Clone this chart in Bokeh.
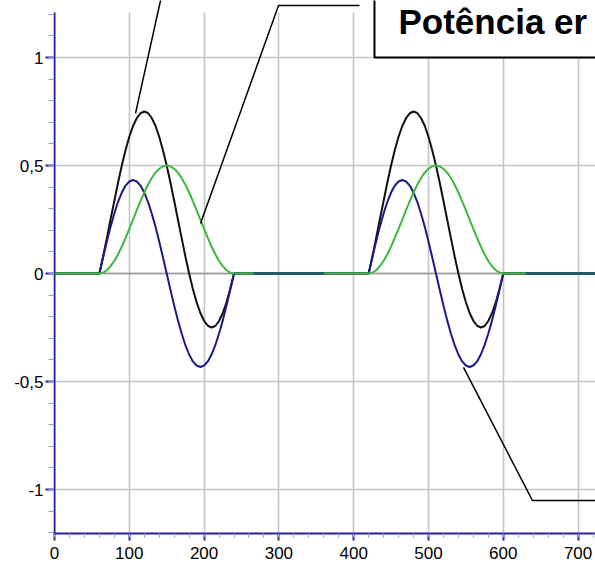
from bokeh.plotting import figure
from bokeh.models import FixedTicker, Range1d, Span
from bokeh.core.properties import value
from bokeh.embed import file_html
from bokeh.resources import INLINE

# ---- data ----
pulse_x1 = list(range(60, 245, 5))
pulse_x2 = list(range(420, 605, 5))
black_vals = [0, 0.079, 0.163, 0.251, 0.336, 0.421, 0.5, 0.572, 0.633, 0.683, 0.719, 0.742, 0.75,
              0.743, 0.72, 0.684, 0.633, 0.571, 0.5, 0.421, 0.337, 0.25, 0.164, 0.079, 0,
              -0.072, -0.133, -0.183, -0.219, -0.242, -0.25, -0.243, -0.22, -0.183, -0.133, -0.071, 0]
blue_vals = [0, 0.075, 0.148, 0.217, 0.278, 0.332, 0.375, 0.407, 0.426, 0.433, 0.426, 0.407, 0.375,
             0.332, 0.278, 0.217, 0.148, 0.075, 0, -0.075, -0.148, -0.217, -0.278, -0.332, -0.375,
             -0.407, -0.426, -0.433, -0.426, -0.407, -0.375, -0.332, -0.278, -0.217, -0.148, -0.075, 0]
green_vals = [0, 0.004, 0.015, 0.034, 0.058, 0.089, 0.125, 0.165, 0.207, 0.25, 0.293, 0.335, 0.375,
              0.411, 0.442, 0.467, 0.485, 0.496, 0.5, 0.496, 0.485, 0.467, 0.442, 0.411, 0.375,
              0.335, 0.293, 0.25, 0.207, 0.165, 0.125, 0.089, 0.058, 0.034, 0.015, 0.004, 0]
x_start, x_end = 0, 723
teal_x1 = [266, 360]
teal_x2 = [630, 723]
teal_vals = [0, 0]

x_ticks = [0, 100, 200, 300, 400, 500, 600, 700]
x_tick_labels = ["0", "100", "200", "300", "400", "500", "600", "700"]
y_ticks = [-1, -0.5, 0, 0.5, 1]
y_tick_labels = ["-1", "-0,5", "0", "0,5", "1"]
box_text = "Potência er"

# ---- build series ----
def full(vals):
    xs = [x_start] + pulse_x1 + pulse_x2 + [x_end]
    ys = [0] + vals + vals + [0]
    return xs, ys

AXIS = "#2424a0"
p = figure(width=595, height=566, output_backend="svg", toolbar_location=None,
           x_range=Range1d(-1.337, 723.3), y_range=Range1d(-1.2037, 1.2639),
           min_border_left=53, min_border_right=0, min_border_top=0, min_border_bottom=33)
p.outline_line_color = None
p.background_fill_color = "white"
p.border_fill_color = "white"

x_minor = [v for v in range(0, 730, 20)]
y_minor = [round(-1.2 + 0.1 * i, 2) for i in range(25)]
p.xaxis.ticker = FixedTicker(ticks=x_ticks, minor_ticks=x_minor)
p.yaxis.ticker = FixedTicker(ticks=y_ticks, minor_ticks=y_minor)
p.xaxis.major_label_overrides = {t: l for t, l in zip(x_ticks, x_tick_labels)}
p.yaxis.major_label_overrides = {t: l for t, l in zip(y_ticks, y_tick_labels)}

for ax in (p.xaxis, p.yaxis):
    ax.major_label_text_font = "Liberation Sans"
    ax.major_label_text_font_size = "17px"
    ax.major_label_text_color = "black"
    ax.major_tick_line_color = AXIS
    ax.major_tick_line_width = 2
    ax.major_tick_in = 0
    ax.minor_tick_in = 0
    ax.minor_tick_line_color = "#9a9ac8"
    ax.minor_tick_line_width = 1

p.xaxis.axis_line_color = AXIS
p.xaxis.axis_line_width = 2
p.xaxis.major_tick_out = 7
p.xaxis.minor_tick_out = 4
p.xaxis.major_label_standoff = 6

p.yaxis.axis_line_color = None
p.yaxis.major_tick_out = 8
p.yaxis.minor_tick_out = 5
p.yaxis.major_label_standoff = 2

p.xgrid.grid_line_color = "#c4c4c4"
p.xgrid.grid_line_width = 1.6
p.ygrid.grid_line_color = "#c4c4c4"
p.ygrid.grid_line_width = 1.6

p.add_layout(Span(location=0, dimension="width", line_color="#999999", line_width=1.5, level="underlay"))

# cover grid above the plotting area
p.quad(left=-5, right=740, bottom=1.208, top=1.4, fill_color="white", line_color=None)
# own y axis line at x = 0
p.segment(x0=0, y0=-1.2037, x1=0, y1=1.208, line_color=AXIS, line_width=2)

bx, by = full(black_vals)
p.line(bx, by, line_color="#111111", line_width=2)
ux, uy = full(blue_vals)
p.line(ux, uy, line_color="#1a1a8c", line_width=2)
gx, gy = full(green_vals)
p.line(gx, gy, line_color="#3cb83c", line_width=2)
p.line(teal_x1, teal_vals, line_color="#1f5a66", line_width=3)
p.line(teal_x2, teal_vals, line_color="#1f5a66", line_width=3)

# callout leaders
p.line([144.7, 108.3], [1.310, 0.741], line_color="black", line_width=1.5)
p.line([195.2, 299.5, 407.8], [0.231, 1.241, 1.241], line_color="black", line_width=1.5)
p.line([546.8, 639.0, 740], [-0.435, -1.051, -1.051], line_color="black", line_width=1.5)

# callout box
p.quad(left=427.8, right=740, bottom=1.0, top=1.4, fill_color="white", line_color="black", line_width=2)
p.text(x=[459.9], y=[1.259], text=[box_text], text_font=value("Liberation Sans"),
       text_font_style="bold", text_font_size="35px", text_baseline="top",
       text_align="left", text_color="black")

open("out.html", "w").write(file_html(p, INLINE))
